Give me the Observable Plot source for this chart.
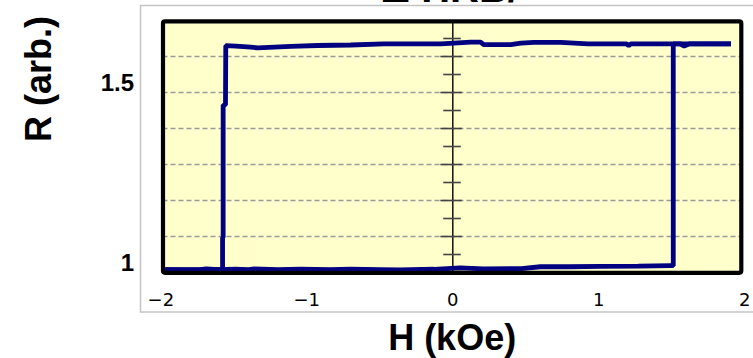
<!DOCTYPE html>
<html>
<head>
<meta charset="utf-8">
<script src="https://cdn.jsdelivr.net/npm/d3@7"></script>
<script src="https://cdn.jsdelivr.net/npm/@observablehq/plot@0.6"></script>
<style>
  html, body { margin: 0; padding: 0; background: #ffffff; }
  #chart { width: 753px; height: 358px; overflow: hidden; }
</style>
</head>
<body>
<div id="chart"></div>
<script>
// ---- Data ----
const titleText = "Δ HRB/";
const xLabel = "H (kOe)";
const yLabel = "R (arb.)";
const xTicks = [-2, -1, 0, 1, 2];
const yTicks = [1, 1.5];
const yTickLabels = ["1", "1.5"];
const gridValues = [1.075, 1.175, 1.275, 1.375, 1.475, 1.575];
const minorTickValues = [1.025, 1.125, 1.225, 1.325, 1.425, 1.525, 1.625];

// Sweep with increasing field (lower branch, then jump up)
const upH = [-1.97, -1.85, -1.73, -1.69, -1.60, -1.49, -1.40, -1.36, -1.20, -1.04, -0.84, -0.70, -0.50, -0.36, -0.13, 0.05, 0.21, 0.47, 0.60, 0.80, 1.01, 1.27, 1.49, 1.51, 1.51, 1.56, 1.585, 1.62, 1.75, 1.905];
const upR = [0.983, 0.982, 0.983, 0.985, 0.983, 0.984, 0.983, 0.985, 0.983, 0.984, 0.983, 0.984, 0.983, 0.982, 0.984, 0.988, 0.985, 0.986, 0.991, 0.991, 0.992, 0.993, 0.994, 0.994, 1.610, 1.610, 1.604, 1.610, 1.610, 1.610];

// Sweep with decreasing field (upper branch, then jump down)
const downH = [1.905, 1.60, 1.22, 1.205, 1.19, 0.925, 0.74, 0.555, 0.466, 0.397, 0.212, 0.19, 0.123, -0.082, -0.356, -0.473, -0.699, -0.925, -1.11, -1.336, -1.384, -1.486, -1.555, -1.557, -1.573, -1.573, -1.577, -1.577, -1.75, -1.97];
const downR = [1.610, 1.610, 1.610, 1.605, 1.610, 1.610, 1.614, 1.614, 1.612, 1.608, 1.608, 1.615, 1.615, 1.610, 1.610, 1.610, 1.607, 1.6056, 1.603, 1.599, 1.601, 1.604, 1.605, 1.44, 1.44, 1.072, 1.072, 0.983, 0.983, 0.983];

// ---- Build tables ----
const sweep = [
  ...upH.map((h, i) => ({H: h, R: upR[i], s: "up"})),
  ...downH.map((h, i) => ({H: h, R: downR[i], s: "down"}))
];

const navy = "#000080";

const chart = Plot.plot({
  width: 753,
  height: 358,
  marginLeft: 162.5,
  marginRight: 12.2,
  marginTop: 20.8,
  marginBottom: 85.7,
  style: {background: "transparent", overflow: "visible"},
  x: {domain: [-1.985, 1.976]},
  y: {domain: [0.9742, 1.6728]},
  marks: [
    Plot.frame({fill: "#ffffcc", stroke: "none"}),
    Plot.gridY(gridValues, {stroke: "#9a9a9a", strokeOpacity: 1, strokeWidth: 1.5, strokeDasharray: "5,3"}),
    Plot.ruleX([0], {stroke: "#000", strokeWidth: 1.4}),
    Plot.ruleY(gridValues, {x1: -0.082, x2: 0.065, stroke: "#444", strokeWidth: 1.6}),
    Plot.ruleY(minorTickValues, {x1: -0.062, x2: 0.058, stroke: "#444", strokeWidth: 1.6}),
    Plot.line(sweep, {x: "H", y: "R", z: "s", stroke: navy, strokeWidth: 4.8, strokeLinejoin: "miter", strokeLinecap: "butt"}),
    Plot.frame({stroke: "#000", strokeWidth: 4.2, rx: 2}),
    Plot.axisY(yTicks, {
      tickSize: 0, tickPadding: 29,
      tickFormat: (d, i) => yTickLabels[i],
      fontSize: 24, fontWeight: "bold", fontFamily: "Liberation Sans, Arial, sans-serif",
      fill: "#000", label: null
    }),
    Plot.axisX(xTicks, {
      tickSize: 0, tickPadding: 20,
      tickFormat: d => (d < 0 ? "\u2212" + Math.abs(d) : String(d)),
      fontSize: 18, fontFamily: "DejaVu Sans, sans-serif",
      fill: "#000", label: null
    }),
    Plot.text([yLabel], {
      frameAnchor: "left", dx: -124, dy: -5, rotate: -90,
      fontSize: 36, fontWeight: "bold", fontFamily: "Liberation Sans, Arial, sans-serif", fill: "#000"
    }),
    Plot.text([xLabel], {
      frameAnchor: "bottom", dy: 66, lineAnchor: "middle",
      fontSize: 36, fontWeight: "bold", fontFamily: "Liberation Sans, Arial, sans-serif", fill: "#000"
    }),
    Plot.text([titleText], {
      frameAnchor: "top", dx: -2, dy: -19.5, lineAnchor: "bottom",
      fontSize: 40, fontWeight: "bold", fontFamily: "Liberation Sans, Arial, sans-serif", fill: "#000"
    })
  ]
});

// light gray outer panel border
d3.select(chart).insert("rect", ":first-child")
  .attr("x", 140.5).attr("y", 5.5)
  .attr("width", 640).attr("height", 306.5)
  .attr("fill", "none").attr("stroke", "#c4c4c4").attr("stroke-width", 1.5);

document.getElementById("chart").appendChild(chart);
</script>
</body>
</html>
